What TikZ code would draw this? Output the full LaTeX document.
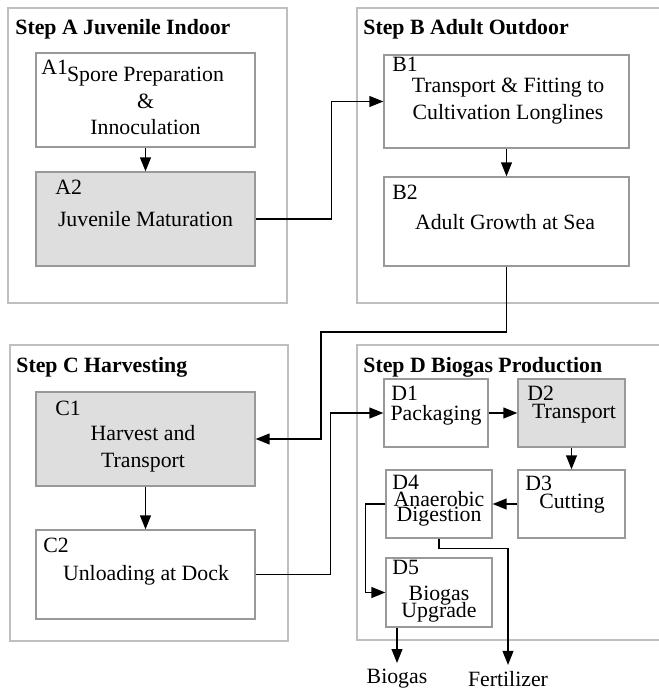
\documentclass[tikz,border=0pt]{standalone}
\usepackage{fontspec}
\setmainfont{Liberation Serif}
\usetikzlibrary{arrows.meta}

\newcommand{\stepfont}{\fontsize{10.9}{13.25}\selectfont}

\tikzset{
  frame/.style={draw=black!25, line width=0.7pt, fill=white},
  stepbox/.style={draw=black!40, line width=0.6pt, fill=white, inner sep=0pt},
  shaded/.style={stepbox, fill=black!13},
  tag/.style={anchor=base west, inner sep=0pt},
  title/.style={anchor=base west, inner sep=0pt, font=\stepfont\bfseries},
  txt/.style={align=center, inner sep=0pt},
  flow/.style={-{Triangle[length=7pt,width=5.4pt]}, line width=0.75pt},
}

\begin{document}
\begin{tikzpicture}[x=0.5pt, y=-0.5pt, font=\stepfont]
    \useasboundingbox (0,0) rectangle (658,694);

    % step A
    \draw[frame] (8,8) rectangle (287,303);
    \node[title] (atitle) at (15,35) {Step A Juvenile Indoor};
    \node[stepbox, minimum width=109.5pt, minimum height=47pt] (a1) at (145.5,100) {};
    \node[tag] (a1id) at (41,75) {A1};
    \node[txt] (a1txt) at (145.5,101) {Spore Preparation\\\&\\Innoculation};
    \node[shaded, minimum width=109.5pt, minimum height=47pt] (a2) at (145.5,219) {};
    \node[tag] (a2id) at (55,195) {A2};
    \node[txt] (a2txt) at (145.5,219.5) {Juvenile Maturation};

    % step B
    \draw[frame] (357,8) rectangle (662,303);
    \node[title] (btitle) at (363,35) {Step B Adult Outdoor};
    \node[stepbox, minimum width=122.5pt, minimum height=46.5pt] (b1) at (506.5,101.5) {};
    \node[tag] (b1id) at (392,72) {B1};
    \node[txt] (b1txt) at (508,101) {Transport \& Fitting to\\Cultivation Longlines};
    \node[stepbox, minimum width=122.5pt, minimum height=44.5pt] (b2) at (506.5,221.5) {};
    \node[tag] (b2id) at (392,200) {B2};
    \node[txt] (b2txt) at (505,222) {Adult Growth at Sea};

    % step C
    \draw[frame] (10,345) rectangle (288,641);
    \node[title] (ctitle) at (16,372) {Step C Harvesting};
    \node[shaded, minimum width=109.5pt, minimum height=47pt] (c1) at (145.5,439) {};
    \node[tag] (c1id) at (55,415) {C1};
    \node[txt] (c1txt) at (143,449) {Harvest and\\Transport};
    \node[stepbox, minimum width=109.5pt, minimum height=44.5pt] (c2) at (145.5,574.5) {};
    \node[tag] (c2id) at (43,552) {C2};
    \node[txt] (c2txt) at (146,575) {Unloading at Dock};

    % step D
    \draw[frame] (357,345) rectangle (662,640);
    \node[title] (dtitle) at (363,372) {Step D Biogas Production};
    \node[stepbox, minimum width=52pt, minimum height=34pt] (d1) at (436,413) {};
    \node[tag] (d1id) at (391,400) {D1};
    \node[txt] (d1txt) at (436,415) {Packaging};
    \node[shaded, minimum width=53.5pt, minimum height=34pt] (d2) at (571.5,413) {};
    \node[tag] (d2id) at (527,400) {D2};
    \node[txt] (d2txt) at (574,414) {Transport};
    \node[stepbox, minimum width=53.5pt, minimum height=34pt] (d3) at (571.5,504) {};
    \node[tag] (d3id) at (525,490) {D3};
    \node[txt] (d3txt) at (572,504) {Cutting};
    \node[stepbox, minimum width=53pt, minimum height=34pt] (d4) at (439,504) {};
    \node[tag] (d4id) at (392,489) {D4};
    \node[txt] (d4txt) at (439,509) {Anaerobic\\[-5.5pt]Digestion};
    \node[stepbox, minimum width=53pt, minimum height=34.5pt] (d5) at (439,592.5) {};
    \node[tag] (d5id) at (392,574) {D5};
    \node[txt] (d5txt) at (439,604) {Biogas\\[-5pt]Upgrade};

    % products
    \node[inner sep=3pt] (biogas) at (397,679) {Biogas};
    \node[inner sep=3pt] (fert) at (508,679) {Fertilizer};

    % flows
    \draw[flow] (a1) -- (a2);
    \draw[flow] (a2.east) -- ++(76,0) |- (b1.west);
    \draw[flow] (b1) -- (b2);
    \coordinate (bend) at (321,332);
    \draw[flow] (b2.south) |- (bend) |- (c1.east);
    \draw[flow] (c1) -- (c2);
    \draw[flow] (c2.east) -- ++(75,0) |- (d1.west);
    \draw[flow] (d1) -- (d2);
    \draw[flow] (d2) -- (d3);
    \draw[flow] (d3) -- (d4);
    \draw[flow] (d4.west) -- ++(-20,0) |- (d5.west);
    \draw[flow] (d4.south) -- ++(0,10) -| (fert.north);
    \draw[flow] (biogas |- d5.south) -- (biogas.north);

\end{tikzpicture}
\end{document}
